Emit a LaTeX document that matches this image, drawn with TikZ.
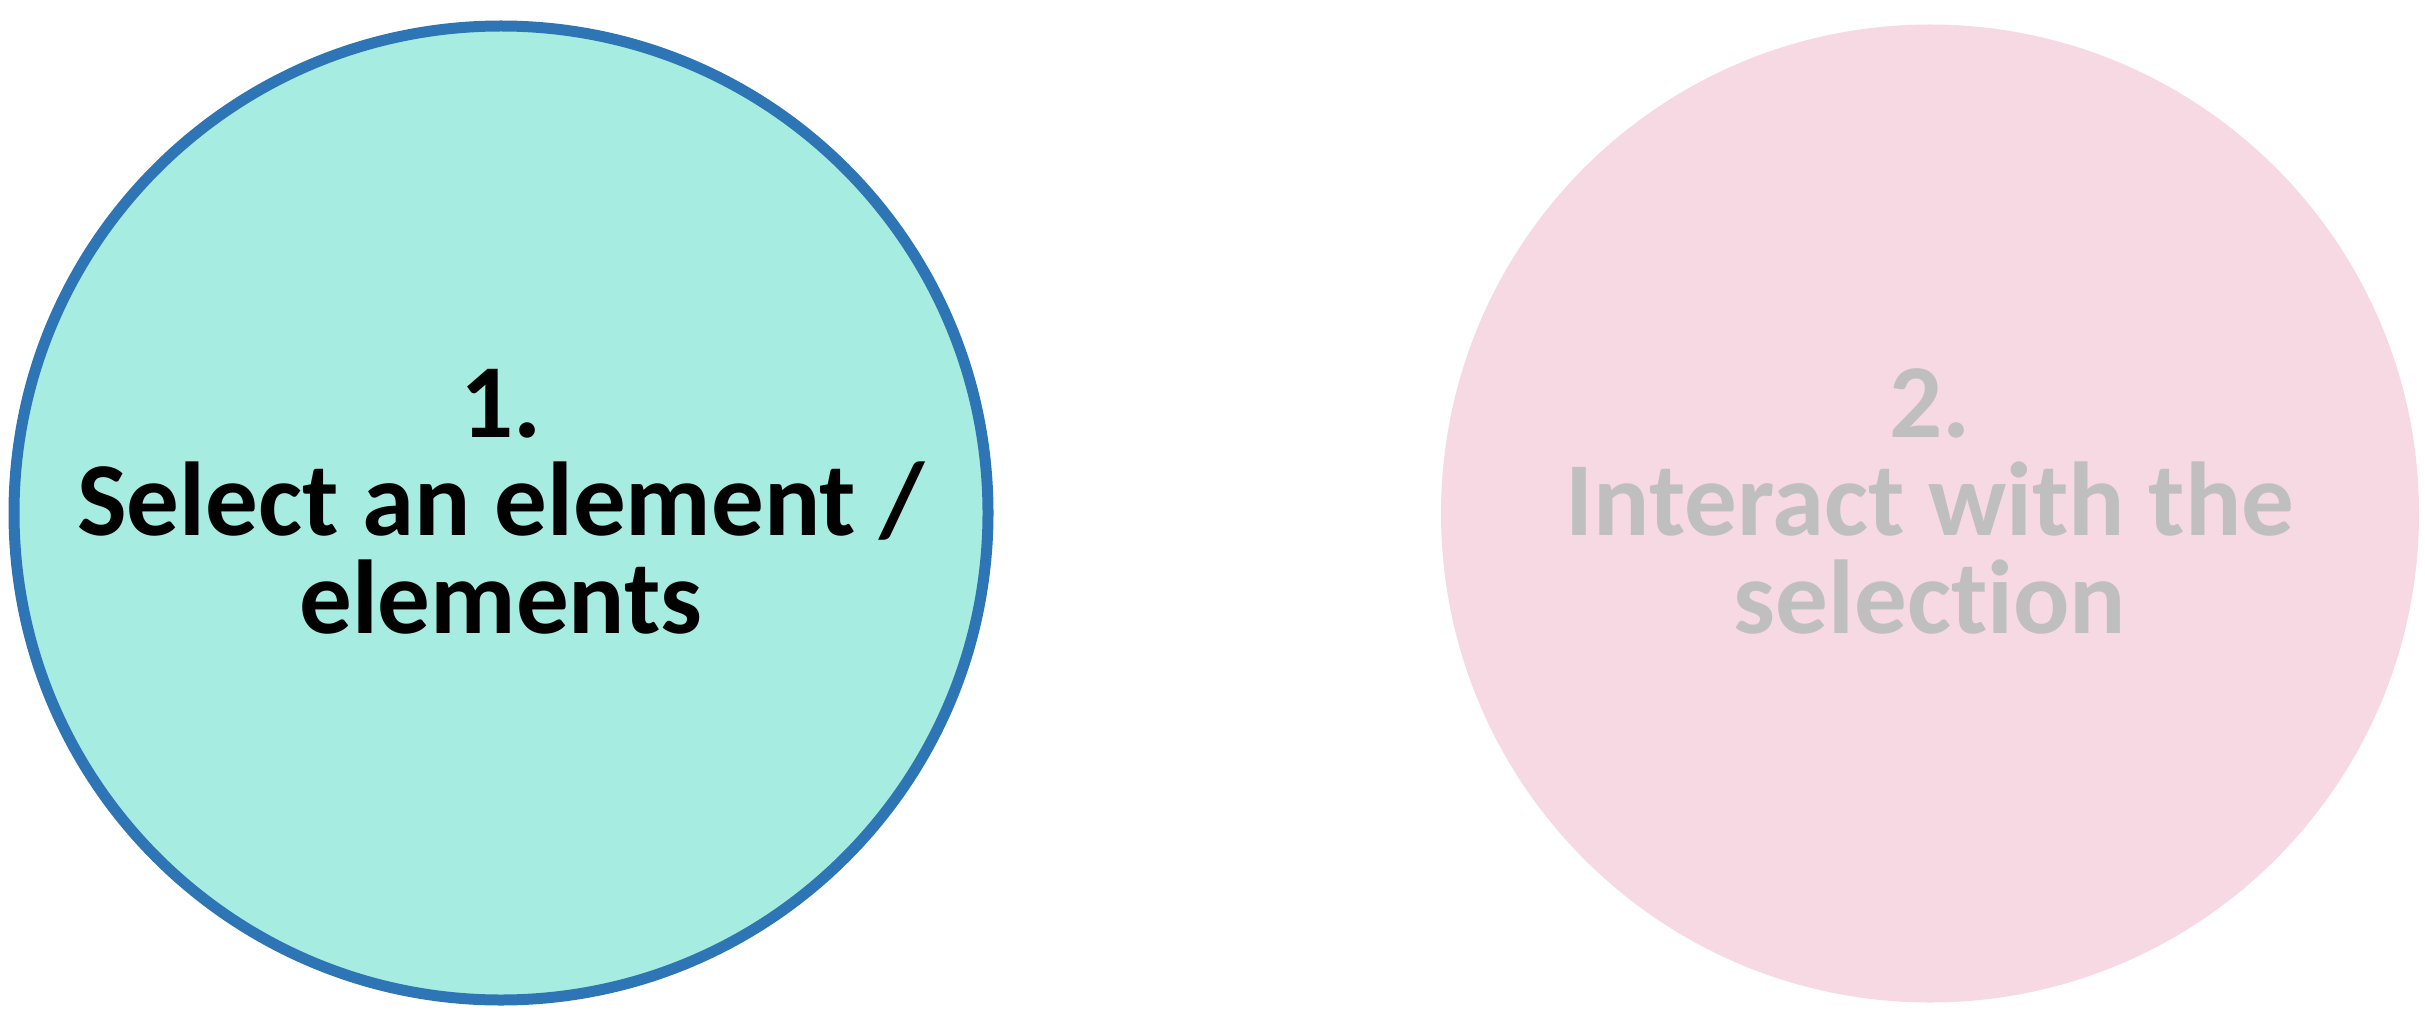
\documentclass[tikz,border=0pt]{standalone}
\usepackage{fontspec}
\setmainfont{Carlito}[RawFeature=-liga]
\usetikzlibrary{positioning}

\definecolor{stepteal}{HTML}{A6ECE1}
\definecolor{stepblue}{HTML}{2E75B6}
\definecolor{steppink}{HTML}{F6D9E3}
\definecolor{stepgray}{HTML}{BFBFBF}

\begin{document}
\begin{tikzpicture}[x=1pt,y=-1pt]
\tikzset{
  stagecircle/.style={circle,inner sep=0pt,outer sep=0pt},
  activestage/.style={stagecircle,fill=stepteal,draw=stepblue,line width=11pt,minimum size=974pt},
  laterstage/.style={stagecircle,fill=steppink,minimum size=978pt},
  stagetext/.style={align=center,anchor=base,inner sep=0pt,
    font=\bfseries\fontsize{105}{98}\selectfont}
}
\useasboundingbox (0,0) rectangle (2425,1016);
\node[activestage] (n_c1) at (501,513) {};
\node[laterstage] (n_c2) at (1930,513.5) {};
% base anchor sits on the last line
\node[stagetext,text=black] (t_c1) at (501,633) {1.\\Select an element /\\elements};
\node[stagetext,text=stepgray] (t_c2) at (1930,633) {2.\\Interact with the\\selection};
\end{tikzpicture}
\end{document}
